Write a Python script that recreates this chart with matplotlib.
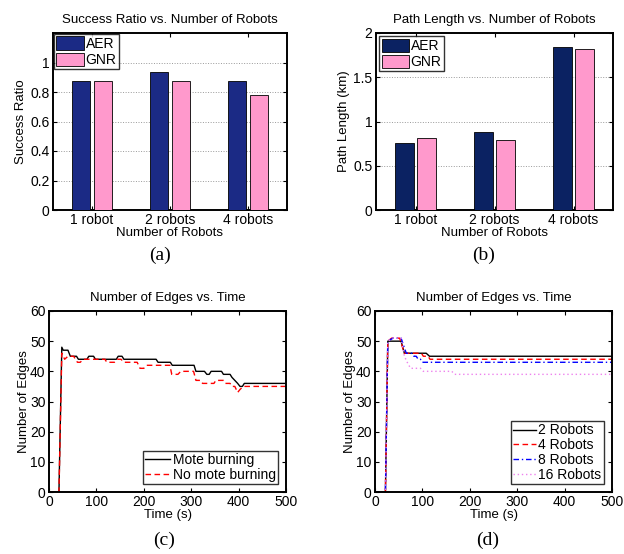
import matplotlib
matplotlib.use('Agg')
import matplotlib.pyplot as plt

plt.rcParams['font.family'] = ['Liberation Sans', 'DejaVu Sans']

# (a), (b) bar data
robots = ['1 robot', '2 robots', '4 robots']
aer_success = [0.875, 0.9375, 0.875]
gnr_success = [0.875, 0.875, 0.78125]
aer_path = [0.754, 0.878, 1.838]
gnr_path = [0.808, 0.79, 1.815]

# (c) edges vs time, mote burning or not
t_burn = [0, 21, 27, 30, 40, 45, 58, 62, 80, 84, 94, 98, 142, 146, 154, 158, 226, 230,
          256, 260, 306, 310, 328, 333, 338, 342, 364, 368, 382, 386, 398, 403, 408, 412, 500]
e_burn = [0, 0, 48, 47, 47, 45, 45, 44, 44, 45, 45, 44, 44, 45, 45, 44, 44, 43,
          43, 42, 42, 40, 40, 39, 39, 40, 40, 39, 39, 38, 36, 35, 35, 36, 36]
t_noburn = [0, 21, 27, 33, 40, 52, 60, 66, 72, 100, 118, 122, 138, 144, 152, 158, 186, 192,
            200, 206, 255, 259, 272, 278, 305, 310, 320, 324, 348, 352, 368, 372, 382, 386,
            392, 398, 403, 410, 500]
e_noburn = [0, 0, 46, 44, 45, 45, 43, 43, 44, 44, 44, 43, 43, 44, 44, 43, 43, 41,
            41, 42, 42, 39, 39, 40, 40, 37, 37, 36, 36, 37, 37, 36, 36, 35,
            35, 33, 34, 35, 35]

# (d) edges vs time for team sizes
t_r2 = [0, 22, 27, 55, 62, 108, 115, 500]
e_r2 = [0, 0, 50, 50, 46, 46, 45, 45]
t_r4 = [0, 22, 27, 35, 52, 62, 98, 102, 112, 116, 500]
e_r4 = [0, 0, 50, 51, 51, 46, 46, 45, 45, 44, 44]
t_r8 = [0, 22, 27, 38, 55, 66, 78, 82, 87, 91, 96, 100, 500]
e_r8 = [0, 0, 50, 51, 51, 46, 46, 45, 45, 44, 44, 43, 43]
t_r16 = [0, 22, 27, 38, 55, 62, 68, 75, 96, 102, 162, 168, 500]
e_r16 = [0, 0, 50, 51, 51, 45, 43, 41, 41, 40, 40, 39, 39]

fig = plt.figure(figsize=(6.24, 5.54), dpi=100)

W, H = 624.0, 554.0
def box(l, t, r, b):
    return [l / W, 1 - b / H, (r - l) / W, (b - t) / H]

ax_a = fig.add_axes(box(53, 33, 287, 210))
ax_b = fig.add_axes(box(376, 33, 613, 210))
ax_c = fig.add_axes(box(49, 311, 286, 492))
ax_d = fig.add_axes(box(375, 311, 612, 492))

fs_tick = 10
fs_lab = 9.5
fs_title = 9.5
fs_leg = 10

def matlab_axes(ax):
    ax.tick_params(direction='in', top=True, right=True, length=3, width=0.8,
                   labelsize=fs_tick, pad=2.5)
    for s in ax.spines.values():
        s.set_linewidth(1.4)

x = [1, 2, 3]
bw = 0.24
off = 0.14

# (a)
ax_a.bar([i - off for i in x], aer_success, bw, color='#1b2a85', edgecolor='k', lw=0.6, label='AER', zorder=3)
ax_a.bar([i + off for i in x], gnr_success, bw, color='#ff99cc', edgecolor='k', lw=0.6, label='GNR', zorder=3)
ax_a.set_xlim(0.5, 3.5)
ax_a.set_ylim(0, 1.2)
ax_a.set_yticks([0, 0.2, 0.4, 0.6, 0.8, 1])
ax_a.set_yticklabels(['0', '0.2', '0.4', '0.6', '0.8', '1'])
ax_a.set_xticks(x)
ax_a.set_xticklabels(robots)
ax_a.yaxis.grid(True, ls=':', color='#999999', lw=0.7)
ax_a.set_title('Success Ratio vs. Number of Robots', fontsize=fs_title, pad=7)
ax_a.set_ylabel('Success Ratio', fontsize=fs_lab, labelpad=2)
ax_a.set_xlabel('Number of Robots', fontsize=fs_lab, labelpad=0)
matlab_axes(ax_a)
ax_a.legend(loc='upper left', fontsize=fs_leg, frameon=True, fancybox=False, edgecolor='k',
            borderaxespad=0.1, handlelength=2.0, handleheight=1.1, handletextpad=0.1,
            borderpad=0.15, labelspacing=0.15).get_frame().set_linewidth(1.0)

# (b)
ax_b.bar([i - off for i in x], aer_path, bw, color='#0b2262', edgecolor='k', lw=0.6, label='AER', zorder=3)
ax_b.bar([i + off for i in x], gnr_path, bw, color='#ff99cc', edgecolor='k', lw=0.6, label='GNR', zorder=3)
ax_b.set_xlim(0.5, 3.5)
ax_b.set_ylim(0, 2)
ax_b.set_yticks([0, 0.5, 1, 1.5, 2])
ax_b.set_yticklabels(['0', '0.5', '1', '1.5', '2'])
ax_b.set_xticks(x)
ax_b.set_xticklabels(robots)
ax_b.yaxis.grid(True, ls=':', color='#999999', lw=0.7)
ax_b.set_title('Path Length vs. Number of Robots', fontsize=fs_title, pad=7)
ax_b.set_ylabel('Path Length (km)', fontsize=fs_lab, labelpad=2)
ax_b.set_xlabel('Number of Robots', fontsize=fs_lab, labelpad=0)
matlab_axes(ax_b)
ax_b.legend(loc='upper left', fontsize=fs_leg, frameon=True, fancybox=False, edgecolor='k',
            borderaxespad=0.25, handlelength=2.0, handleheight=1.1, handletextpad=0.1,
            borderpad=0.15, labelspacing=0.15).get_frame().set_linewidth(1.0)

# (c)
ax_c.plot(t_burn, e_burn, color='k', lw=1.0, label='Mote burning')
ax_c.plot(t_noburn, e_noburn, color='#ff0000', lw=1.0, ls=(0, (4, 2.5)), label='No mote burning')
ax_c.set_xlim(0, 500)
ax_c.set_ylim(0, 60)
ax_c.set_xticks([0, 100, 200, 300, 400, 500])
ax_c.set_yticks([0, 10, 20, 30, 40, 50, 60])
ax_c.set_title('Number of Edges vs. Time', fontsize=fs_title, pad=7)
ax_c.set_ylabel('Number of Edges', fontsize=fs_lab, labelpad=0)
ax_c.set_xlabel('Time (s)', fontsize=fs_lab, labelpad=0)
matlab_axes(ax_c)
ax_c.legend(loc='lower right', fontsize=fs_leg, frameon=True, fancybox=False, edgecolor='k',
            borderaxespad=0.6, handlelength=1.8, handletextpad=0.2,
            borderpad=0.15, labelspacing=0.05).get_frame().set_linewidth(1.0)

# (d)
ax_d.plot(t_r2, e_r2, color='k', lw=1.0, label='2 Robots')
ax_d.plot(t_r4, e_r4, color='#ff0000', lw=1.0, ls=(0, (4, 2.5)), label='4 Robots')
ax_d.plot(t_r8, e_r8, color='#0000ff', lw=1.0, ls=(0, (4, 2, 1, 2)), label='8 Robots')
ax_d.plot(t_r16, e_r16, color='#ee82ee', lw=1.0, ls=(0, (1, 2)), label='16 Robots')
ax_d.set_xlim(0, 500)
ax_d.set_ylim(0, 60)
ax_d.set_xticks([0, 100, 200, 300, 400, 500])
ax_d.set_yticks([0, 10, 20, 30, 40, 50, 60])
ax_d.set_title('Number of Edges vs. Time', fontsize=fs_title, pad=7)
ax_d.set_ylabel('Number of Edges', fontsize=fs_lab, labelpad=0)
ax_d.set_xlabel('Time (s)', fontsize=fs_lab, labelpad=0)
matlab_axes(ax_d)
ax_d.legend(loc='lower right', fontsize=fs_leg, frameon=True, fancybox=False, edgecolor='k',
            borderaxespad=0.6, handlelength=1.6, handletextpad=0.2,
            borderpad=0.15, labelspacing=0.05).get_frame().set_linewidth(1.0)

# sub-figure letters
for lbl, xp, yp in [('(a)', 160, 255), ('(b)', 484, 255), ('(c)', 164, 540), ('(d)', 488, 540)]:
    fig.text(xp / W, 1 - yp / H, lbl, family='Liberation Serif', fontsize=14,
             ha='center', va='center')

fig.savefig('out.png', dpi=100)
